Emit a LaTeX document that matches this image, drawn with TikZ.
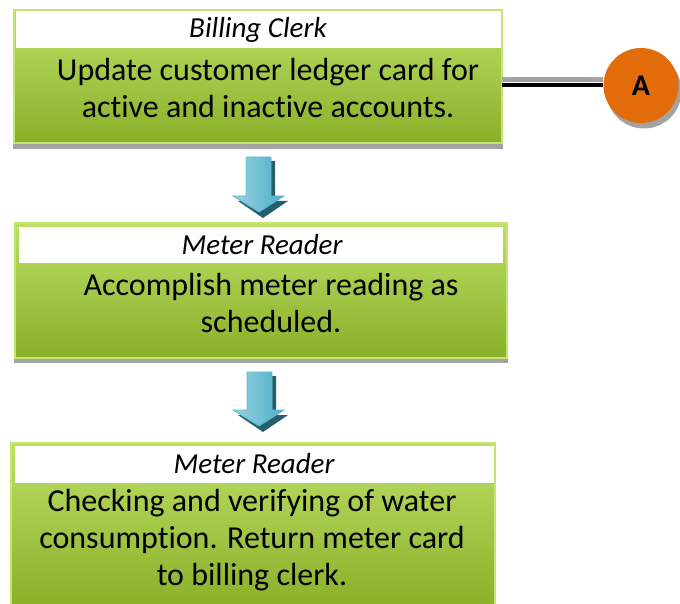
\documentclass[tikz,border=0pt]{standalone}
\usepackage{fontspec}
\setmainfont{Carlito}[Ligatures=CommonOff]
\definecolor{gtop}{HTML}{BCDF66}
\definecolor{gbot}{HTML}{8AAF28}
\definecolor{gborder}{HTML}{C5E572}
\definecolor{shadowgray}{HTML}{A3A3A3}
\definecolor{orangeA}{HTML}{E36C0A}
\definecolor{arrlight}{HTML}{9AD3E2}
\definecolor{arrmid}{HTML}{4BADC7}
\definecolor{arrdark}{HTML}{245F6E}
\definecolor{arredge}{HTML}{5FB9D0}
\begin{document}
\begin{tikzpicture}[x=1pt,y=-1pt,
  boxshadow/.style={fill=shadowgray,draw=none},
  greenbox/.style={draw=gborder,line width=2pt,top color=gtop,bottom color=gbot},
  whitebar/.style={fill=white,draw=none},
  titletext/.style={font=\fontsize{29}{32}\selectfont\itshape,inner sep=0pt},
  bodytext/.style={font=\fontsize{32}{37}\selectfont,align=center,inner sep=0pt},
  blockarrow/.style={left color=arrlight,right color=arrmid,draw=arredge,line width=0.8pt},
  arrowshadow/.style={fill=arrdark,draw=none}
]
\useasboundingbox (0,0) rectangle (680,604);

% ---------- Box 1 ----------
\fill[boxshadow] (13,14) rectangle (503,149);
\path[greenbox] (14,10) rectangle (502,143);
\node[inner sep=0pt,minimum width=488pt,minimum height=133pt] (box1) at (258,76.5) {};
\fill[whitebar] (16,11) rectangle (501,48);
\node[titletext] (t1) at (258,30) {Billing Clerk};
\node[bodytext] (b1) at (268,88.5) {Update customer ledger card for\\active and inactive accounts.};

% ---------- Box 2 ----------
\fill[boxshadow] (14,227) rectangle (508,363);
\path[greenbox] (15,223) rectangle (507,358);
\node[inner sep=0pt,minimum width=492pt,minimum height=135pt] (box2) at (261,290.5) {};
\fill[whitebar] (19,227) rectangle (503,263);
\node[titletext] (t2) at (262,245) {Meter Reader};
\node[bodytext] (b2) at (271,303.5) {Accomplish meter reading as\\scheduled.};

% ---------- Box 3 ----------
\fill[boxshadow] (10,446) rectangle (496,610);
\path[greenbox] (11,443) rectangle (495,610);
\node[inner sep=0pt,minimum width=484pt,minimum height=161pt] (box3) at (253,523.5) {};
\fill[whitebar] (15,446) rectangle (494,483);
\node[titletext] (t3) at (254,464) {Meter Reader};
\node[bodytext] (b3) at (252,540) {Checking and verifying of water\\consumption. Return meter card\\to billing clerk.};

% ---------- Connector to A ----------
\node[circle,fill=shadowgray,minimum size=75pt,inner sep=0pt] (Ashadow) at (644,91) {};
\node[circle,fill=orangeA,minimum size=75pt,inner sep=0pt,font=\fontsize{30}{32}\selectfont\bfseries] (A) at (641,85.5) {A};
\coordinate (c1) at (502,85);
\draw[shadowgray,line width=5pt] ([yshift=5pt]c1) -- ([yshift=5pt]c1 -| A.west);
\draw[black,line width=4pt] (c1) -- (c1 -| A.west);

% ---------- Block arrows ----------
% arrow 1
\fill[arrowshadow] (250,161) -- (275,161) -- (275,201) -- (288,201) -- (263,218) -- (238,201) -- (250,201) -- cycle;
\path[blockarrow] (246,157) -- (271,157) -- (271,196) -- (284,196) -- (259,212) -- (233,196) -- (246,196) -- cycle;
% arrow 2
\fill[arrowshadow] (251,376) -- (276,376) -- (276,415) -- (288,415) -- (263,432) -- (238,415) -- (251,415) -- cycle;
\path[blockarrow] (247,372) -- (272,372) -- (272,410) -- (284,410) -- (259,426) -- (233,410) -- (247,410) -- cycle;
\end{tikzpicture}
\end{document}
